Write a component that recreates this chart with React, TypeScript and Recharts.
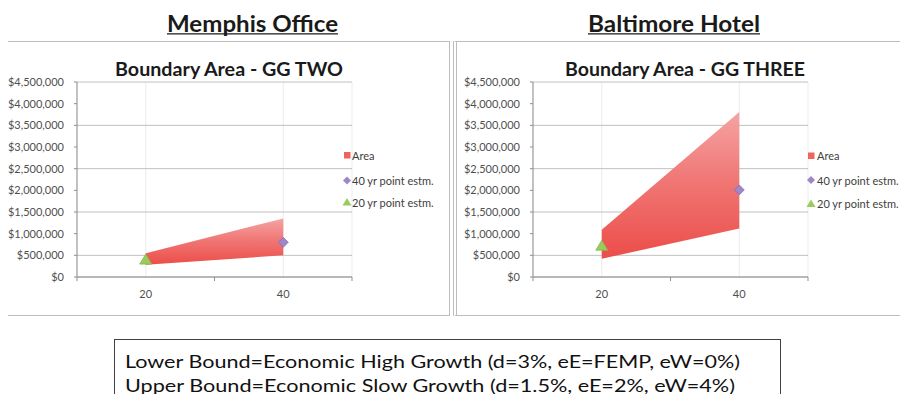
import { ComposedChart, Area, Line, XAxis, YAxis, CartesianGrid } from 'recharts';

// categories (years) and value axis ticks
const years = ['20', '40'];
const valueTicks = [0, 500000, 1000000, 1500000, 2000000, 2500000, 3000000, 3500000, 4000000, 4500000];

// Memphis Office - Boundary Area GG TWO
const memphisLower = [280000, 500000];
const memphisUpper = [550000, 1350000];
const memphis20yr = [390000, null];
const memphis40yr = [null, 800000];

// Baltimore Hotel - Boundary Area GG THREE
const baltimoreLower = [420000, 1120000];
const baltimoreUpper = [1090000, 3810000];
const baltimore20yr = [710000, null];
const baltimore40yr = [null, 2010000];

const seriesNames = ['Area', '40 yr point estm.', '20 yr point estm.'];
const boundNotes = [
  'Lower Bound=Economic High Growth (d=3%, eE=FEMP, eW=0%)',
  'Upper Bound=Economic Slow Growth (d=1.5%, eE=2%, eW=4%)',
];

const FONT = 'Lato, "Open Sans", "DejaVu Sans", sans-serif';
const GRID = '#c0c0c0';
const AXIS = '#8f8f8f';
const LABEL = '#4f4f4f';
const PLOT_W = 275;
const CAT_PAD = PLOT_W / 4; // two categories, each centred in half the plot
const X_TICK_GAP = 13;

const money = (v: number) => '$' + v.toLocaleString('en-US');

function buildRows(lower: number[], upper: number[], p20: (number | null)[], p40: (number | null)[]) {
  return years.map((year, i) => ({ year, area: [lower[i], upper[i]], p20: p20[i], p40: p40[i] }));
}

function diamondDot(props: any) {
  const { cx, cy, index } = props;
  if (cx == null || cy == null) return <g key={`d${index}`} />;
  const r = 5;
  return (
    <polygon
      key={`d${index}`}
      points={`${cx},${cy - r} ${cx + r},${cy} ${cx},${cy + r} ${cx - r},${cy}`}
      fill="#9d87c6"
      stroke="#8570b2"
      strokeWidth={0.8}
    />
  );
}

function triangleDot(props: any) {
  const { cx, cy, index } = props;
  if (cx == null || cy == null) return <g key={`t${index}`} />;
  return (
    <polygon
      key={`t${index}`}
      points={`${cx},${cy - 6} ${cx + 6},${cy + 4} ${cx - 6},${cy + 4}`}
      fill="#9ccb5d"
      stroke="#88b74a"
      strokeWidth={0.8}
    />
  );
}

// Excel-style category axis: tick marks on the band edges, label in the middle
function CategoryTick(props: any) {
  const { x, y, payload } = props;
  const axisY = y - X_TICK_GAP;
  return (
    <g>
      <line x1={x - CAT_PAD} x2={x - CAT_PAD} y1={axisY} y2={axisY + 4} stroke={AXIS} />
      <line x1={x + CAT_PAD} x2={x + CAT_PAD} y1={axisY} y2={axisY + 4} stroke={AXIS} />
      <text x={x} y={y} dy="0.71em" textAnchor="middle" fontSize={11} fontFamily={FONT} fill={LABEL}>
        {payload.value}
      </text>
    </g>
  );
}

interface BoundaryChartProps {
  id: string;
  rows: ReturnType<typeof buildRows>;
  width: number;
  yAxisWidth: number;
  rightMargin: number;
}

function BoundaryChart({ id, rows, width, yAxisWidth, rightMargin }: BoundaryChartProps) {
  return (
    <ComposedChart
      width={width}
      height={275}
      data={rows}
      margin={{ top: 41, right: rightMargin, bottom: 0, left: 0 }}
    >
      <defs>
        <linearGradient id={`fill-${id}`} x1="0" y1="0" x2="0" y2="1">
          <stop offset="0%" stopColor="#f5a4a3" />
          <stop offset="45%" stopColor="#f07876" />
          <stop offset="100%" stopColor="#ec4d49" />
        </linearGradient>
      </defs>
      <CartesianGrid horizontal={false} stroke="#ebebeb" />
      <CartesianGrid vertical={false} stroke={GRID} />
      <XAxis
        dataKey="year"
        scale="point"
        padding={{ left: CAT_PAD, right: CAT_PAD }}
        height={39}
        interval={0}
        axisLine={{ stroke: AXIS }}
        tickLine={false}
        tickSize={0}
        tickMargin={X_TICK_GAP}
        tick={<CategoryTick />}
      />
      <YAxis
        domain={[0, 4500000]}
        ticks={valueTicks}
        width={yAxisWidth}
        tickFormatter={money}
        tick={{ fontSize: 11, fill: LABEL, fontFamily: FONT }}
        tickSize={3}
        tickMargin={10}
        axisLine={{ stroke: AXIS }}
        tickLine={{ stroke: AXIS }}
        allowDataOverflow
      />
      <Area
        dataKey="area"
        type="linear"
        stroke="none"
        fill={`url(#fill-${id})`}
        fillOpacity={1}
        isAnimationActive={false}
      />
      <Line dataKey="p20" stroke="none" dot={triangleDot} activeDot={false} isAnimationActive={false} />
      <Line dataKey="p40" stroke="none" dot={diamondDot} activeDot={false} isAnimationActive={false} />
    </ComposedChart>
  );
}

function LegendBlock({ x, textX, ys }: { x: number; textX: number; ys: number[] }) {
  return (
    <g>
      <rect x={x - 3} y={ys[0] - 7.5} width={6.5} height={6.5} fill="#ef6461" />
      <polygon
        points={`${x},${ys[1] - 8.5} ${x + 4},${ys[1] - 4.5} ${x},${ys[1] - 0.5} ${x - 4},${ys[1] - 4.5}`}
        fill="#9d87c6"
      />
      <polygon points={`${x},${ys[2] - 8.5} ${x + 4.5},${ys[2] - 1} ${x - 4.5},${ys[2] - 1}`} fill="#9ccb5d" />
      {seriesNames.map((name, i) => (
        <text key={name} x={textX} y={ys[i]} fontSize={11} fontFamily={FONT} fill="#404040">
          {name}
        </text>
      ))}
    </g>
  );
}

export default function App() {
  const memphisRows = buildRows(memphisLower, memphisUpper, memphis20yr, memphis40yr);
  const baltimoreRows = buildRows(baltimoreLower, baltimoreUpper, baltimore20yr, baltimore40yr);

  return (
    <div style={{ position: 'relative', width: 908, height: 402, margin: -8, overflow: 'hidden', background: '#fff' }}>
      <div
        style={{
          position: 'absolute', left: 7, top: 41, width: 443, height: 275,
          boxSizing: 'border-box', border: '1px solid #bdbdbd',
        }}
      />
      <div
        style={{
          position: 'absolute', left: 453, top: 41, width: 470, height: 275,
          boxSizing: 'border-box', border: '1px solid #bdbdbd', borderLeft: '4px double #bdbdbd',
        }}
      />
      <div style={{ position: 'absolute', left: 7, top: 41 }}>
        <BoundaryChart id="memphis" rows={memphisRows} width={443} yAxisWidth={70} rightMargin={98} />
      </div>
      <div style={{ position: 'absolute', left: 453, top: 41 }}>
        <BoundaryChart id="baltimore" rows={baltimoreRows} width={455} yAxisWidth={80} rightMargin={100} />
      </div>

      <svg width={908} height={402} style={{ position: 'absolute', left: 0, top: 0, pointerEvents: 'none' }}>
        <text x={167} y={31.5} fontSize={22} fontWeight={700} fontFamily={FONT} fill="#1a1a1a"
          textLength={171} lengthAdjust="spacingAndGlyphs">Memphis Office</text>
        <line x1={167} x2={338} y1={33.8} y2={33.8} stroke="#1a1a1a" strokeWidth={1.3} />
        <text x={588} y={31.5} fontSize={22} fontWeight={700} fontFamily={FONT} fill="#1a1a1a"
          textLength={172} lengthAdjust="spacingAndGlyphs">Baltimore Hotel</text>
        <line x1={588} x2={760} y1={33.8} y2={33.8} stroke="#1a1a1a" strokeWidth={1.3} />

        <text x={115} y={76} fontSize={18} fontWeight={700} fontFamily={FONT} fill="#1a1a1a"
          textLength={228} lengthAdjust="spacingAndGlyphs">Boundary Area - GG TWO</text>
        <text x={565} y={76} fontSize={18} fontWeight={700} fontFamily={FONT} fill="#1a1a1a"
          textLength={240} lengthAdjust="spacingAndGlyphs">Boundary Area - GG THREE</text>

        <LegendBlock x={347} textX={352} ys={[159.5, 185, 206.5]} />
        <LegendBlock x={811} textX={817} ys={[160, 184.5, 208]} />

        <rect x={114.5} y={339.5} width={666} height={80} fill="#fff" stroke="#404040" />
        <text x={125} y={367.7} fontSize={17} fontFamily={FONT} fill="#111"
          textLength={615} lengthAdjust="spacingAndGlyphs">{boundNotes[0]}</text>
        <text x={125} y={392} fontSize={17} fontFamily={FONT} fill="#111"
          textLength={610} lengthAdjust="spacingAndGlyphs">{boundNotes[1]}</text>
      </svg>
    </div>
  );
}
